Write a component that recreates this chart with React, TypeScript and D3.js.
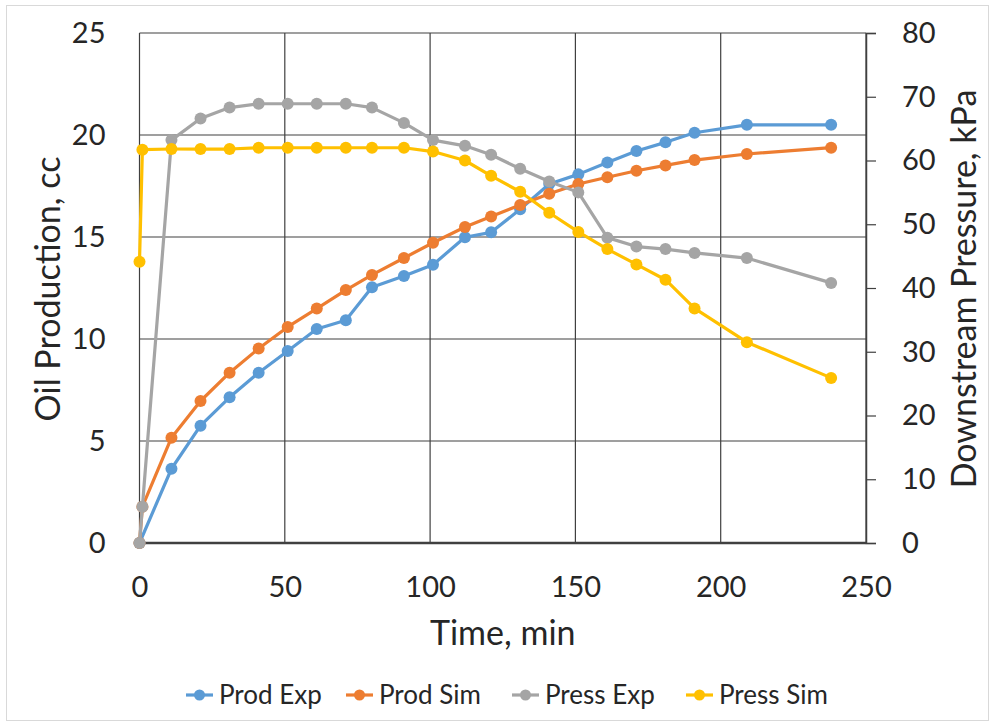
import * as d3 from 'd3';
import { useEffect, useRef } from 'react';

// time (min) shared by all series; null = no point
const times = [0, 1, 11, 21, 31, 41, 51, 61, 71, 80, 91, 101, 112, 121, 131, 141, 151, 161, 171, 181, 191, 209, 238];
const prodExp = [0, null, 3.64, 5.75, 7.14, 8.35, 9.41, 10.49, 10.92, 12.54, 13.09, 13.64, 14.99, 15.23, 16.36, 17.6, 18.07, 18.65, 19.22, 19.64, 20.11, 20.5, 20.5];
const prodSim = [0, 1.78, 5.16, 6.96, 8.35, 9.53, 10.59, 11.49, 12.4, 13.14, 13.97, 14.72, 15.49, 16.01, 16.57, 17.12, 17.6, 17.93, 18.25, 18.51, 18.77, 19.07, 19.38];
const pressExp = [0, 5.7, 63.2, 66.6, 68.3, 68.9, 68.9, 68.9, 68.9, 68.3, 65.9, 63.2, 62.3, 60.9, 58.7, 56.7, 55.0, 47.9, 46.5, 46.1, 45.5, 44.7, 40.8];
const pressSim = [44.1, 61.7, 61.8, 61.8, 61.8, 62.0, 62.0, 62.0, 62.0, 62.0, 62.0, 61.4, 60.0, 57.6, 55.1, 51.8, 48.8, 46.1, 43.7, 41.3, 36.8, 31.5, 25.9];

const xTicks = [0, 50, 100, 150, 200, 250];
const leftTicks = [0, 5, 10, 15, 20, 25];
const rightTicks = [0, 10, 20, 30, 40, 50, 60, 70, 80];

const seriesList = [
    { name: 'Prod Exp', values: prodExp, axis: 'left', color: '#5B9BD5' },
    { name: 'Prod Sim', values: prodSim, axis: 'left', color: '#ED7D31' },
    { name: 'Press Exp', values: pressExp, axis: 'right', color: '#A5A5A5' },
    { name: 'Press Sim', values: pressSim, axis: 'right', color: '#FFC000' },
];

const FONT = 'Lato, "Open Sans", sans-serif';
const TEXT = '#262626';

export default function App() {
    const ref = useRef<SVGSVGElement>(null);

    useEffect(() => {
        const W = 990, H = 723;
        const margin = { top: 33, right: 124, bottom: 180, left: 139.5 };
        const width = W - margin.left - margin.right;
        const height = H - margin.top - margin.bottom;

        const root = d3.select(ref.current);
        root.selectAll('*').remove();

        // outer chart border
        root.append('rect')
            .attr('x', 6.5).attr('y', 5.5).attr('width', W - 8).attr('height', H - 8)
            .attr('fill', '#fff').attr('stroke', '#d9d9d9');

        const svg = root.append('g').attr('transform', `translate(${margin.left},${margin.top})`);

        const x = d3.scaleLinear().domain([0, 250]).range([0, width]);
        const yL = d3.scaleLinear().domain([0, 25]).range([height, 0]);
        const yR = d3.scaleLinear().domain([0, 80]).range([height, 0]);

        // gridlines
        svg.append('g').selectAll('line').data(leftTicks).join('line')
            .attr('x1', 0).attr('x2', width)
            .attr('y1', d => yL(d)).attr('y2', d => yL(d))
            .attr('stroke', '#404040').attr('stroke-width', 1.2);
        svg.append('g').selectAll('line').data(xTicks).join('line')
            .attr('x1', d => x(d)).attr('x2', d => x(d))
            .attr('y1', 0).attr('y2', height)
            .attr('stroke', '#404040').attr('stroke-width', 1.2);

        // bottom axis line
        svg.append('line').attr('x1', 0).attr('x2', width).attr('y1', height).attr('y2', height)
            .attr('stroke', '#404040').attr('stroke-width', 2.5);

        // right axis with outer ticks
        const rAxis = svg.append('g').attr('transform', `translate(${width},0)`)
            .call(d3.axisRight(yR).tickValues(rightTicks).tickSize(10).tickPadding(26));
        rAxis.select('.domain').attr('stroke', '#404040').attr('stroke-width', 1.5);
        rAxis.selectAll('.tick line').attr('stroke', '#404040').attr('stroke-width', 1.2);
        rAxis.selectAll('text').attr('font-family', FONT).attr('font-size', 29).attr('fill', TEXT);

        // left axis labels
        const lAxis = svg.append('g').call(d3.axisLeft(yL).tickValues(leftTicks).tickSize(0).tickPadding(34));
        lAxis.select('.domain').remove();
        lAxis.selectAll('text').attr('font-family', FONT).attr('font-size', 29).attr('fill', TEXT);

        // bottom axis labels
        const bAxis = svg.append('g').attr('transform', `translate(0,${height})`)
            .call(d3.axisBottom(x).tickValues(xTicks).tickSize(0).tickPadding(33));
        bAxis.select('.domain').remove();
        bAxis.selectAll('text').attr('font-family', FONT).attr('font-size', 29).attr('fill', TEXT);

        // axis titles
        svg.append('text').attr('x', width / 2).attr('y', height + 102)
            .attr('text-anchor', 'middle').attr('font-family', FONT).attr('font-size', 34).attr('fill', TEXT)
            .text('Time, min');
        svg.append('text').attr('transform', `translate(${-80},${height / 2 + 1}) rotate(-90)`)
            .attr('text-anchor', 'middle').attr('font-family', FONT).attr('font-size', 34).attr('fill', TEXT)
            .text('Oil Production, cc');
        svg.append('text').attr('transform', `translate(${width + 110},${height / 2 + 1}) rotate(-90)`)
            .attr('text-anchor', 'middle').attr('font-family', FONT).attr('font-size', 34).attr('fill', TEXT)
            .text('Downstream Pressure, kPa');

        // series
        seriesList.forEach(s => {
            const y = s.axis === 'left' ? yL : yR;
            const pts = times.map((t, i) => ({ t, v: s.values[i] })).filter(p => p.v !== null) as { t: number, v: number }[];
            const line = d3.line<{ t: number, v: number }>().x(d => x(d.t)).y(d => y(d.v));
            svg.append('path').datum(pts)
                .attr('fill', 'none').attr('stroke', s.color).attr('stroke-width', 3.2)
                .attr('stroke-linejoin', 'round').attr('d', line);
            svg.append('g').selectAll('circle').data(pts).join('circle')
                .attr('cx', d => x(d.t)).attr('cy', d => y(d.v)).attr('r', 6)
                .attr('fill', s.color);
        });

        // legend
        const legendX = [186, 346, 512, 686];
        const legend = root.append('g').attr('transform', 'translate(0,695)');
        seriesList.forEach((s, i) => {
            const g = legend.append('g').attr('transform', `translate(${legendX[i]},0)`);
            g.append('line').attr('x1', 0).attr('x2', 27).attr('y1', 0).attr('y2', 0)
                .attr('stroke', s.color).attr('stroke-width', 3.2);
            g.append('circle').attr('cx', 13.5).attr('cy', 0).attr('r', 5.5).attr('fill', s.color);
            g.append('text').attr('x', 33).attr('y', 0).attr('dy', '0.35em')
                .attr('font-family', FONT).attr('font-size', 26).attr('fill', TEXT)
                .text(s.name);
        });
    }, []);

    return (
        <svg ref={ref} width={990} height={723}
            style={{ position: 'absolute', left: 0, top: 0, display: 'block', background: '#fff' }} />
    );
}
